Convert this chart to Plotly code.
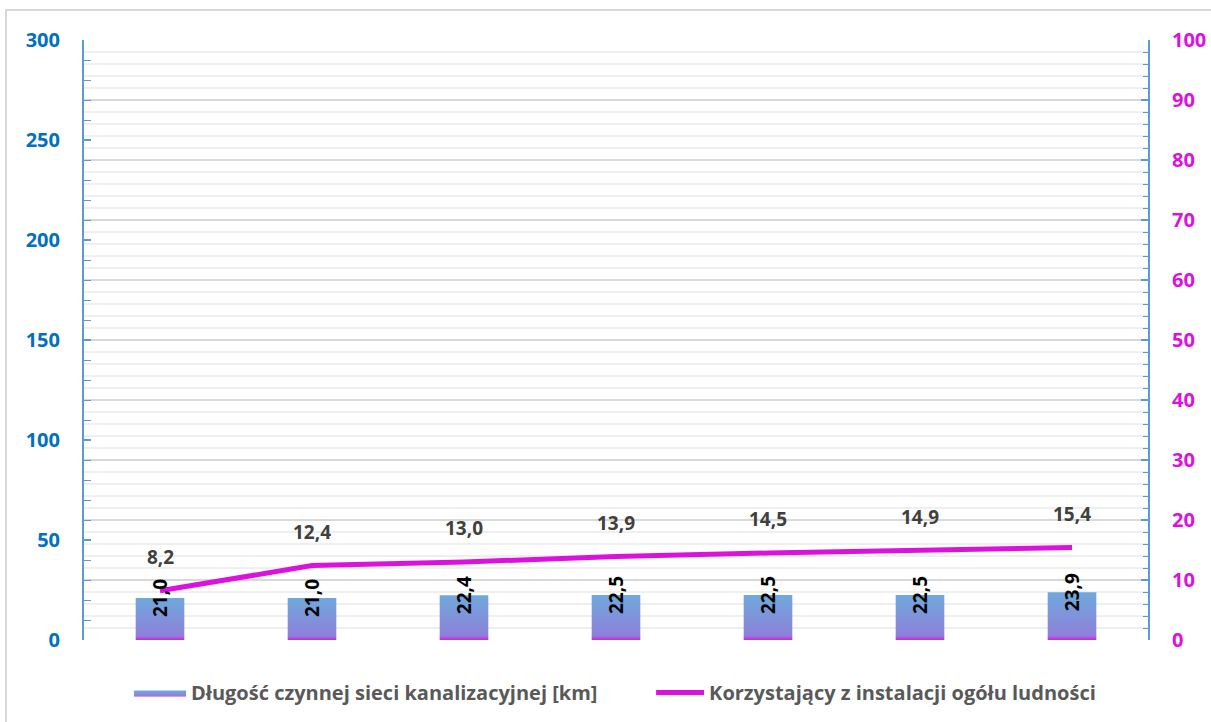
import plotly.graph_objects as go

# Sewer network length [km] (left axis) and share of population connected [%] (right axis)
network_km = [21.0, 21.0, 22.4, 22.5, 22.5, 22.5, 23.9]
users_pct = [8.2, 12.4, 13.0, 13.9, 14.5, 14.9, 15.4]

bar_name = "Długość czynnej sieci kanalizacyjnej [km]"
line_name = "Korzystający z instalacji ogółu ludności"

FONT = "Open Sans"
BLUE_AX = "#5B9BD5"
LEFT_TXT = "#0070C0"
MAGENTA = "#DD11DD"
LABEL_GRAY = "#404040"
LEGEND_FONT = dict(family=FONT, size=20, color="#595959", weight="bold")

def fmt(v):
    return f"{v:.1f}".replace(".", ",")

positions = list(range(len(network_km)))
half_w = 0.16

fig = go.Figure()

# Bars as gradient-filled rectangles (magenta at the base fading into blue)
for i, (x, v) in enumerate(zip(positions, network_km)):
    fig.add_trace(go.Scatter(
        x=[x - half_w, x + half_w, x + half_w, x - half_w, x - half_w],
        y=[0, 0, v, v, 0],
        mode="lines",
        fill="toself",
        line=dict(width=0),
        fillgradient=dict(
            type="vertical",
            colorscale=[[0, "#CC22DD"], [0.09, "#8E80DA"], [1, "#6FA9DC"]],
        ),
        name=bar_name,
        legendgroup="bars",
        legend="legend",
        showlegend=(i == 0),
        hoverinfo="skip",
        yaxis="y",
    ))

fig.add_trace(go.Scatter(
    x=positions,
    y=users_pct,
    mode="lines",
    line=dict(color=MAGENTA, width=5),
    name=line_name,
    legend="legend2",
    yaxis="y2",
))

annotations = []
for x, v in zip(positions, network_km):
    annotations.append(dict(
        x=x, y=v, xref="x", yref="y",
        text=fmt(v), textangle=-90, showarrow=False,
        xanchor="center", yanchor="middle",
        font=dict(family=FONT, size=19, color="#000000", weight="bold"),
    ))
for x, v in zip(positions, users_pct):
    annotations.append(dict(
        x=x, y=v, xref="x", yref="y2",
        text=fmt(v), showarrow=False,
        yshift=34, xanchor="center", yanchor="middle",
        font=dict(family=FONT, size=19, color=LABEL_GRAY, weight="bold"),
    ))

fig.update_layout(
    width=1211, height=722,
    margin=dict(l=84, r=63, t=40, b=82, autoexpand=False),
    paper_bgcolor="white",
    plot_bgcolor="white",
    font=dict(family=FONT),
    showlegend=True,
    legend=dict(
        orientation="h",
        x=0.0423, xanchor="left",
        y=-0.055, yanchor="top",
        font=LEGEND_FONT,
        itemwidth=52,
    ),
    legend2=dict(
        orientation="h",
        x=0.533, xanchor="left",
        y=-0.055, yanchor="top",
        font=LEGEND_FONT,
        itemwidth=48,
    ),
    xaxis=dict(
        range=[-0.5, len(positions) - 0.5],
        showticklabels=False,
        showgrid=False,
        zeroline=False,
        ticks="",
        showline=False,
        automargin=False,
    ),
    yaxis=dict(
        range=[0, 300],
        dtick=50,
        showgrid=False,
        zeroline=False,
        showline=True,
        linecolor=BLUE_AX,
        linewidth=2,
        ticks="inside",
        ticklen=7,
        tickwidth=2,
        tickcolor=BLUE_AX,
        minor=dict(dtick=10, ticks="inside", ticklen=7, tickcolor=BLUE_AX, tickwidth=1, showgrid=False),
        ticklabelstandoff=18,
        tickfont=dict(family=FONT, size=20, color=LEFT_TXT, weight="bold"),
        automargin=False,
    ),
    yaxis2=dict(
        range=[0, 100],
        dtick=10,
        overlaying="y",
        side="right",
        showgrid=True,
        gridcolor="#D9D9D9",
        gridwidth=2,
        zeroline=False,
        showline=True,
        linecolor=BLUE_AX,
        linewidth=2,
        ticks="inside",
        ticklen=7,
        tickwidth=2,
        tickcolor=BLUE_AX,
        minor=dict(dtick=2, ticks="inside", ticklen=5, tickcolor=BLUE_AX, tickwidth=1,
                   showgrid=True, gridcolor="#EFEFEF", gridwidth=2),
        ticklabelstandoff=18,
        tickfont=dict(family=FONT, size=20, color=MAGENTA, weight="bold"),
        automargin=False,
    ),
    annotations=annotations,
    shapes=[dict(
        type="rect", xref="paper", yref="paper",
        x0=-0.0733, x1=1.1, y0=-0.3, y1=1.05,
        line=dict(color="#D9D9D9", width=2),
        fillcolor="rgba(0,0,0,0)",
        layer="below",
    )],
)

fig.write_html("out.html")
